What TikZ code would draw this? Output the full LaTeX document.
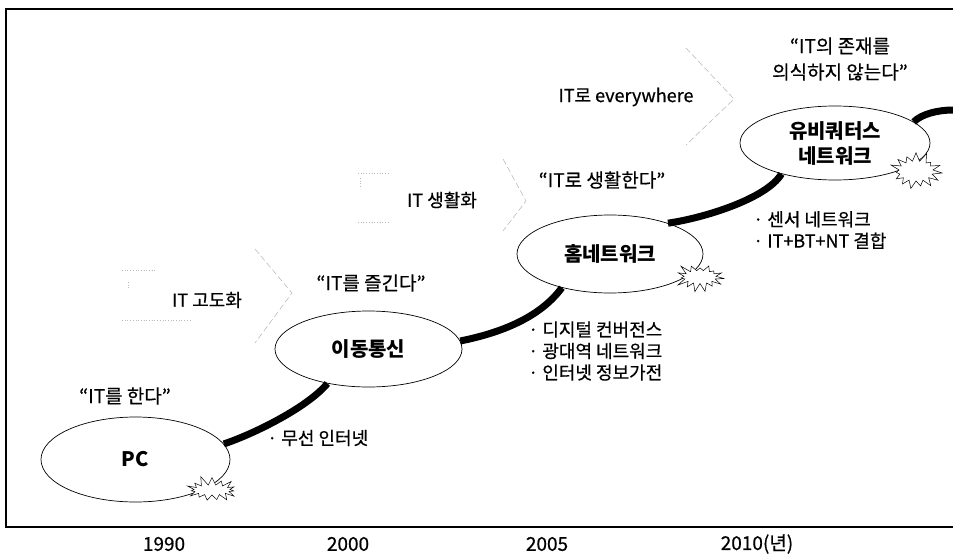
\documentclass[tikz,border=0pt]{standalone}
\usepackage{fontspec}
\setmainfont{Noto Sans CJK KR}
\newfontfamily\medfont{Noto Sans CJK KR}[FakeBold=0.6]
\usetikzlibrary{shapes.geometric,shapes.symbols}
\begin{document}
\begin{tikzpicture}[x=1pt,y=-1pt,
  stage/.style={ellipse,draw,line width=0.7pt,fill=white,inner sep=0pt,font=\fontsize{20}{25}\selectfont\bfseries,align=center},
  quote/.style={font=\medfont\fontsize{19}{26}\selectfont,align=center,inner sep=0pt},
  trend/.style={font=\medfont\fontsize{18}{20}\selectfont,inner sep=0pt},
  bullet/.style={font=\medfont\fontsize{18}{21.5}\selectfont,align=left,inner sep=0pt,anchor=west},
  year/.style={font=\medfont\fontsize{19}{20}\selectfont,inner sep=0pt},
  growth/.style={line width=7pt},
  burst/.style={starburst,draw,fill=white,line width=0.5pt,starburst points=15,starburst point height=10pt,inner sep=0pt},
  chev/.style={gray!60,line width=0.5pt,dash pattern=on 6pt off 3pt},
  faint/.style={gray!55,line width=0.7pt,dotted}]
\useasboundingbox (0,0) rectangle (953,554);
% frame
\draw[line width=1.2pt] (953,9) -- (6,9) -- (6,527) -- (953,527);
% trend chevrons
\draw[chev] (255,249) -- (292,293) -- (255,343);
\draw[chev] (503,159) -- (526,201) -- (503,231);
\draw[chev] (686,48) -- (734,99) -- (686,145);
\draw[faint] (122,270) -- (155,270);
\draw[faint] (122,320) -- (190,320);
\draw[faint] (128,282) -- (128,290);
\draw[faint] (358,173) -- (390,173);
\draw[faint] (358,222) -- (388,222);
\draw[faint] (360,178) -- (360,188);
\node[trend] (t1) at (207,300) {IT 고도화};
\node[trend] (t2) at (442,200) {IT 생활화};
\node[trend] (t3) at (626,97) {IT로 everywhere};
% stages
\node[stage,minimum width=189pt,minimum height=85pt] (pc) at (135.5,459.5) {PC};
\node[stage,minimum width=187pt,minimum height=76pt] (mob) at (368.5,349) {이동통신};
\node[stage,minimum width=186pt,minimum height=78pt] (hom) at (610,254) {홈네트워크};
\node[stage,minimum width=190pt,minimum height=74pt] (ubi) at (835,143) {유비쿼터스\\네트워크};
% growth curves
\coordinate (out) at (953,110);
\draw[growth] (pc.10) .. controls +(30,-10) and +(-20,24) .. (mob.220);
\draw[growth] (mob.5) .. controls +(40,-8) and +(-22,30) .. (hom.215);
\draw[growth] (hom.28) .. controls +(35,-5) and +(-15,25) .. (ubi.210);
\draw[growth] (ubi.15) .. controls +(8,-8) and +(-15,0) .. (out);
% bursts
\node[burst,minimum width=56pt,minimum height=30pt,random starburst=11] (b1) at (212,490) {};
\node[burst,minimum width=52pt,minimum height=33pt,random starburst=23] (b2) at (700,277) {};
\node[burst,minimum width=54pt,minimum height=40pt,random starburst=37] (b3) at (916,171) {};
% quotes
\node[quote] (q1) at (125,396) {“IT를 한다”};
\node[quote] (q2) at (371,283) {“IT를 즐긴다”};
\node[quote] (q3) at (602,180) {“IT로 생활한다”};
\node[quote] (q4) at (840,59) {“IT의 존재를\\ 의식하지 않는다”};
% bullets
\node[bullet] (l1) at (267,438) {· 무선 인터넷};
\node[bullet] (l2) at (528,351) {· 디지털 컨버전스\\· 광대역 네트워크\\· 인터넷 정보가전};
\node[bullet] (l3) at (753,230) {· 센서 네트워크\\· IT+BT+NT 결합};
% years
\node[year] (y1) at (164,544) {1990};
\node[year] (y2) at (348,544) {2000};
\node[year] (y3) at (547,544) {2005};
\node[year] (y4) at (757,544) {2010(년)};
\end{tikzpicture}
\end{document}
